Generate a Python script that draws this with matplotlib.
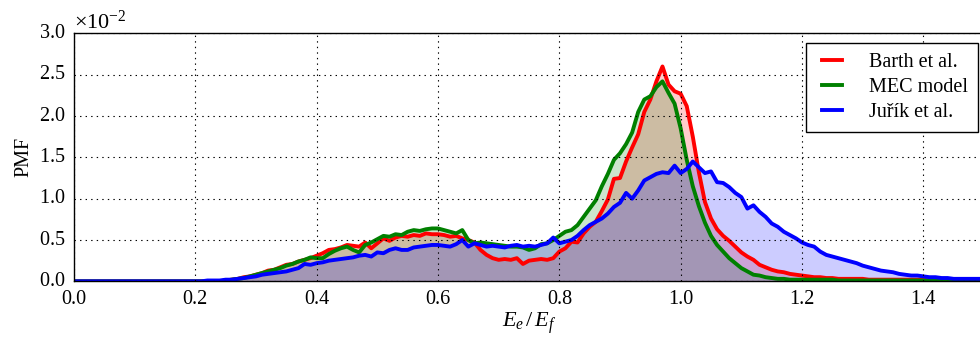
import numpy as np
import matplotlib
matplotlib.use("Agg")
import matplotlib.pyplot as plt

# x grid of the histogram (bin centres every 0.01)
x = np.round(np.arange(0, 151) * 0.01, 2)

# PMF values in units of 1e-2
barth = [0.0] * 25 + [
    0.01, 0.02, 0.03, 0.05, 0.06, 0.08, 0.10, 0.13, 0.14, 0.17,   # 0.25-0.34
    0.20, 0.21, 0.24, 0.26, 0.28, 0.31, 0.34, 0.38, 0.39, 0.41,   # 0.35-0.44
    0.44, 0.43, 0.42, 0.47, 0.40, 0.46, 0.52, 0.49, 0.53, 0.55,   # 0.45-0.54
    0.54, 0.56, 0.55, 0.58, 0.57, 0.57, 0.56, 0.54, 0.55, 0.52,   # 0.55-0.64
    0.50, 0.47, 0.38, 0.32, 0.28, 0.26, 0.27, 0.26, 0.28, 0.21,   # 0.65-0.74
    0.25, 0.26, 0.27, 0.26, 0.28, 0.36, 0.40, 0.48, 0.47, 0.58,   # 0.75-0.84
    0.66, 0.72, 0.85, 0.99, 1.24, 1.25, 1.45, 1.62, 1.78, 2.05,   # 0.85-0.94
    2.20, 2.42, 2.60, 2.38, 2.30, 2.27, 2.12, 1.75, 1.32, 0.96,   # 0.95-1.04
    0.76, 0.63, 0.55, 0.49, 0.42, 0.35, 0.30, 0.26, 0.20, 0.17,   # 1.05-1.14
    0.14, 0.12, 0.11, 0.09, 0.08, 0.07, 0.06, 0.05, 0.05, 0.04,   # 1.15-1.24
    0.04, 0.03, 0.03, 0.03, 0.03, 0.03, 0.02, 0.02, 0.02, 0.02,   # 1.25-1.34
    0.02, 0.02, 0.02, 0.02, 0.02, 0.02, 0.01, 0.01, 0.01, 0.01,   # 1.35-1.44
    0.01, 0.01, 0.01, 0.01, 0.01, 0.01,                           # 1.45-1.50
]
mec = [0.0] * 25 + [
    0.01, 0.02, 0.03, 0.04, 0.06, 0.08, 0.10, 0.12, 0.14, 0.16,
    0.19, 0.21, 0.24, 0.26, 0.29, 0.28, 0.28, 0.33, 0.37, 0.40,
    0.42, 0.38, 0.35, 0.44, 0.47, 0.51, 0.55, 0.54, 0.57, 0.56,
    0.60, 0.62, 0.61, 0.63, 0.64, 0.64, 0.62, 0.60, 0.58, 0.62,
    0.50, 0.46, 0.47, 0.46, 0.45, 0.44, 0.43, 0.42, 0.42, 0.41,
    0.38, 0.40, 0.45, 0.46, 0.50, 0.55, 0.60, 0.62, 0.68, 0.78,
    0.88, 0.98, 1.15, 1.30, 1.47, 1.55, 1.66, 1.80, 2.05, 2.20,
    2.24, 2.35, 2.42, 2.28, 2.15, 1.85, 1.47, 1.15, 0.91, 0.71,
    0.55, 0.44, 0.36, 0.28, 0.22, 0.16, 0.12, 0.08, 0.07, 0.05,
    0.04, 0.03, 0.03, 0.02, 0.02, 0.02, 0.02, 0.02, 0.02, 0.02,
    0.02, 0.01, 0.01, 0.01, 0.01, 0.01, 0.01, 0.01, 0.01, 0.01,
    0.01, 0.01, 0.01, 0.01, 0.01, 0.01, 0.01, 0.01, 0.01, 0.01,
    0.01, 0.01, 0.01, 0.01, 0.01, 0.01,
]
jurik = [0.0] * 22 + [
    0.01, 0.01, 0.01,                                             # 0.22-0.24
    0.02, 0.02, 0.03, 0.04, 0.05, 0.06, 0.08, 0.09, 0.10, 0.11,
    0.12, 0.14, 0.16, 0.21, 0.20, 0.22, 0.23, 0.25, 0.26, 0.27,
    0.28, 0.29, 0.31, 0.32, 0.30, 0.35, 0.34, 0.38, 0.40, 0.38,
    0.38, 0.41, 0.42, 0.43, 0.44, 0.44, 0.43, 0.42, 0.45, 0.50,
    0.42, 0.46, 0.44, 0.42, 0.43, 0.42, 0.41, 0.43, 0.44, 0.42,
    0.43, 0.42, 0.44, 0.46, 0.53, 0.46, 0.48, 0.50, 0.55, 0.62,
    0.68, 0.72, 0.76, 0.82, 0.90, 0.95, 1.07, 1.00, 1.10, 1.22,
    1.26, 1.30, 1.32, 1.31, 1.40, 1.31, 1.36, 1.45, 1.38, 1.31,
    1.33, 1.20, 1.19, 1.14, 1.07, 1.02, 0.88, 0.92, 0.84, 0.78,
    0.70, 0.66, 0.60, 0.56, 0.52, 0.47, 0.44, 0.42, 0.36, 0.32,
    0.30, 0.28, 0.26, 0.24, 0.22, 0.19, 0.17, 0.15, 0.13, 0.12,
    0.11, 0.09, 0.08, 0.07, 0.07, 0.06, 0.05, 0.05, 0.04, 0.04,
    0.03, 0.03, 0.03, 0.03, 0.03, 0.03,
]

labels = ["Barth et al.", "MEC model", "Juřík et al."]
colors = ["r", "g", "b"]
series = [barth, mec, jurik]

plt.style.use("classic")
plt.rcParams["font.family"] = ["Liberation Serif", "DejaVu Serif"]
plt.rcParams["mathtext.fontset"] = "custom"
plt.rcParams["mathtext.rm"] = "Liberation Serif"
plt.rcParams["mathtext.it"] = "Liberation Serif:italic"
plt.rcParams["font.size"] = 14.5

fig = plt.figure(figsize=(9.8, 3.41), dpi=100, facecolor="white")
ax = fig.add_axes([0.0755, 0.175, 0.9286, 0.727])

for vals, c, lab in zip(series, colors, labels):
    y = np.array(vals) * 1e-2
    ax.fill_between(x, 0, y, color=c, alpha=0.2, linewidth=0)
    ax.plot(x, y, color=c, lw=2.8, label=lab)

ax.set_xlim(0, 1.5)
ax.set_ylim(0, 0.03)
ax.set_xticks(np.arange(0, 1.41, 0.2))
ax.set_yticks(np.arange(0, 0.0301, 0.005))
ax.ticklabel_format(style="sci", axis="y", scilimits=(0, 0), useMathText=True)
ax.yaxis.get_offset_text().set_fontsize(16)
ax.tick_params(length=0, pad=6, labelsize=14.5)
ax.grid(True, linestyle=":", color="black", linewidth=0.8)
ax.set_xlabel(r"$E_e\,/\,E_f$", fontsize=16, labelpad=1)
ax.set_ylabel("PMF", fontsize=14.5, labelpad=4)

leg = ax.legend(loc="upper right", bbox_to_anchor=(0.993, 0.962),
                borderaxespad=0, fontsize=14.5, handlelength=1.6,
                borderpad=0.5, labelspacing=0.3, handletextpad=1.0,
                fancybox=False)
leg.get_frame().set_edgecolor("black")

fig.savefig("out.png", dpi=100, facecolor="white")
